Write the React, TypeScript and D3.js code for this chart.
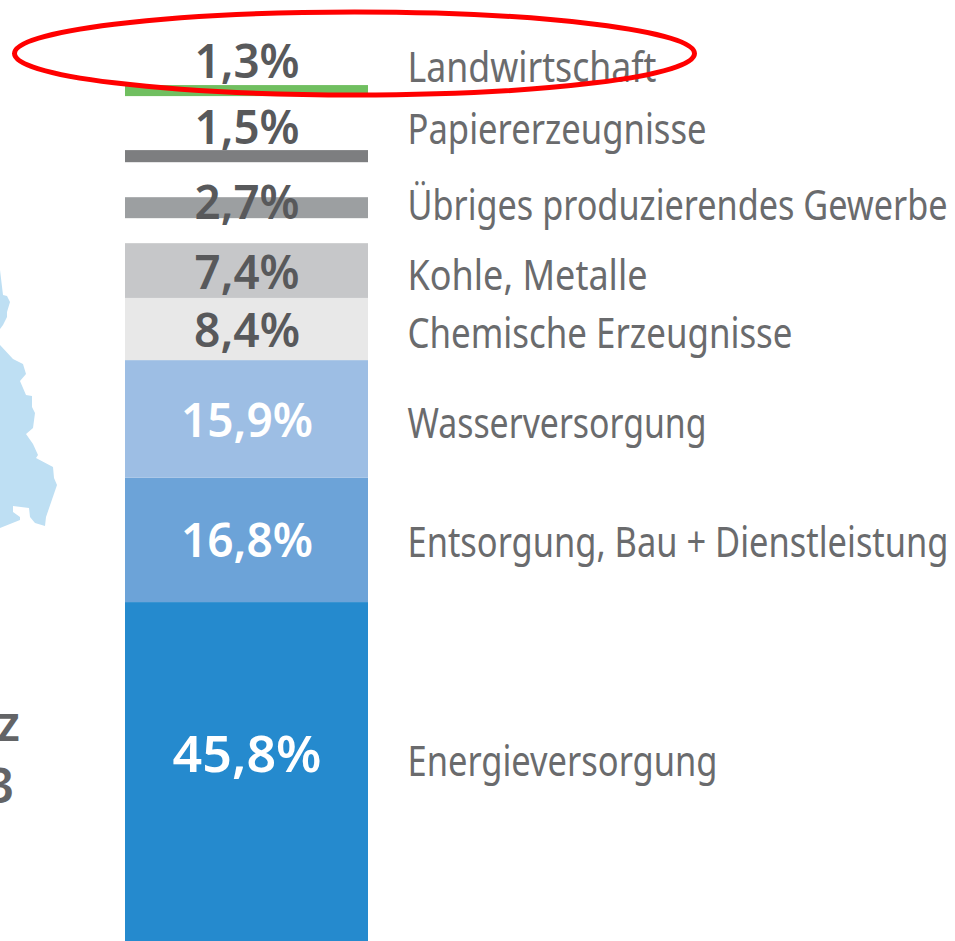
import React from "react";
import * as d3 from "d3";

const values = [45.8, 16.8, 15.9, 8.4, 7.4, 2.7, 1.5, 1.3];
const categories = [
  "Energieversorgung",
  "Entsorgung, Bau + Dienstleistung",
  "Wasserversorgung",
  "Chemische Erzeugnisse",
  "Kohle, Metalle",
  "Übriges produzierendes Gewerbe",
  "Papiererzeugnisse",
  "Landwirtschaft",
];
const colors = ["#258ACE", "#6CA3D8", "#9DBEE4", "#E8E8E8", "#C6C7C9", "#9C9FA1", "#7D7E80", "#70BF60"];
const valueColors = ["#fff", "#fff", "#fff", "#58595B", "#58595B", "#58595B", "#58595B", "#58595B"];

// layout only
const W = 955, H = 941;
const gapsBelow = [0, 0, 0, 0, 0, 25, 35, 54];
const heightPads = [0, 0, 0, 0, 0, 1, 1, 1.4];
const valueBaselines = [772, 557, 437, 347, 289, 219, 144, 78];
const valueSizes = [50, 46, 46, 46, 46, 46, 46, 46];
const valueWidths = [149, 132, 132, 106, 105, 105, 105, 105];
const labelBaselines = [776, 557, 438, 348, 290, 220, 144, 82];
const labelWidths = [310, 541, 299, 385, 240, 540, 299, 249];

const mapUpper: [number, number][] = [[0,270],[3,295],[7,296],[10,302],[7,312],[7,317],[3,325],[0,329]];
const mapLower: [number, number][] = [[0,345],[13,359],[23,364],[26,374],[20,381],[26,395],[32,396],[32,407],[35,413],[33,428],[26,434],[33,444],[38,455],[36,458],[53,467],[54,478],[57,485],[46,517],[45,526],[35,523],[30,517],[29,508],[13,506],[13,512],[20,517],[20,520],[0,528]];

const FONT = "'Noto Sans', 'Open Sans', sans-serif";

export default function App() {
  const h = d3.scaleLinear().domain([0, 1]).range([0, 7.4]);
  const x = d3.scaleBand<number>().domain([0]).range([125, 368]);
  const line = d3.line().curve(d3.curveLinearClosed);
  let cursor = H;
  const bars = values.map((v, i) => {
    const height = h(v) + heightPads[i];
    const bottom = cursor - gapsBelow[i];
    const top = bottom - height;
    cursor = top;
    return { v, i, top, height };
  });
  const cx = (x(0) as number) + x.bandwidth() / 2 + 0.5;
  return (
    <svg width={W} height={H} viewBox={`0 0 ${W} ${H}`} style={{ position: "absolute", left: 0, top: 0, display: "block", background: "#fff" }}>
      <path d={line(mapUpper) as string} fill="#BEDFF3" />
      <path d={line(mapLower) as string} fill="#BEDFF3" />
      <g fontFamily={FONT} fontWeight={600} fontSize={48} fill="#636466" textAnchor="end">
        <text x={20} y={741}>z</text>
        <text x={14} y={803}>3</text>
      </g>
      {bars.map((b) => (
        <rect key={b.i} x={x(0)} y={b.top} width={x.bandwidth()} height={b.height} fill={colors[b.i]} />
      ))}
      {bars.map((b) => (
        <text key={b.i} x={cx} y={valueBaselines[b.i]} textAnchor="middle" fontFamily={FONT} fontWeight={600}
          fontSize={valueSizes[b.i]} fill={valueColors[b.i]} textLength={valueWidths[b.i]} lengthAdjust="spacingAndGlyphs">
          {`${String(b.v).replace(".", ",")}%`}
        </text>
      ))}
      {bars.map((b) => (
        <text key={b.i} x={407.5} y={labelBaselines[b.i]} fontFamily={FONT} fontSize={41} fill="#6A6B6D"
          textLength={labelWidths[b.i]} lengthAdjust="spacingAndGlyphs">
          {categories[b.i]}
        </text>
      ))}
      <ellipse cx={354.5} cy={53.5} rx={340} ry={41.5} fill="none" stroke="#FF0000" strokeWidth={5} />
    </svg>
  );
}
